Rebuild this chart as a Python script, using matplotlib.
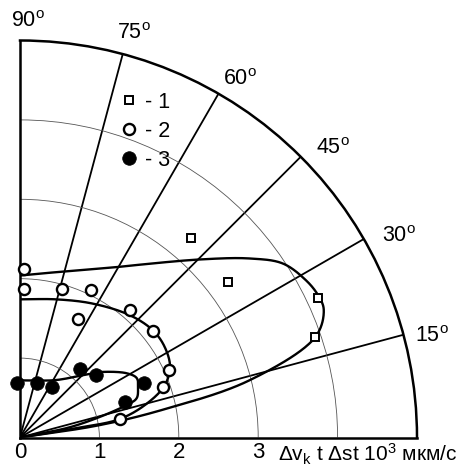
import numpy as np
import matplotlib
matplotlib.use("Agg")
import matplotlib.pyplot as plt
from matplotlib.transforms import offset_copy

plt.rcParams["font.family"] = ["Liberation Sans", "DejaVu Sans"]
plt.rcParams["mathtext.fontset"] = "custom"
plt.rcParams["mathtext.rm"] = "Liberation Sans"
plt.rcParams["mathtext.it"] = "Liberation Sans:italic"
plt.rcParams["mathtext.bf"] = "Liberation Sans:bold"

# measured points: polar angle (degrees) and radius
s1_deg = [49.3, 36.7, 25.1, 18.8]
s1_r = [3.31, 3.27, 4.15, 3.93]

s2_deg = [88.6, 88.5, 74.0, 64.3, 63.7, 49.4, 38.7, 24.3, 19.5, 10.5]
s2_r = [2.12, 1.87, 1.94, 2.06, 1.66, 2.12, 2.15, 2.06, 1.91, 1.28]

s3_deg = [92.8, 73.1, 57.5, 48.7, 39.5, 23.6, 18.5]
s3_r = [0.69, 0.72, 0.76, 1.14, 1.24, 1.70, 1.39]

# fitted loops, traced from the origin round to the vertical axis
c1_deg = [8.0, 8.8, 11.0, 14.0, 18.8, 22.8, 25.5, 28.8, 33.5, 37.9, 44.2, 53.3, 59.7, 75.4, 90.0]
c1_r = [0.0, 1.0, 1.83, 2.98, 3.93, 4.15, 4.16, 4.11, 3.97, 3.67, 3.22, 2.73, 2.49, 2.16, 2.04]

c2_deg = [9.0, 9.5, 10.5, 15.2, 19.9, 25.3, 32.1, 38.9, 48.1, 61.4, 75.1, 90.0]
c2_r = [0.0, 0.7, 1.28, 1.67, 1.94, 2.09, 2.15, 2.15, 2.07, 1.92, 1.80, 1.74]

c3_deg = [11.0, 12.0, 16.9, 18.6, 22.6, 26.9, 31.0, 38.4, 41.2, 57.4, 73.0, 90.0]
c3_r = [0.0, 0.7, 1.40, 1.55, 1.61, 1.65, 1.57, 1.33, 1.23, 0.86, 0.75, 0.72]

theta_ticks = [15, 30, 45, 60, 75, 90]
r_tick_values = [0, 1, 2, 3]
r_grid = [1, 2, 3, 4]
r_max = 5
legend_labels = ["- 1", "- 2", "- 3"]
axis_title = r"$\Delta$v$_\mathregular{k}$ t $\Delta$st 10$^\mathregular{3}$ мкм/с"

# pixel shift of each angle label from the point where its ray meets the rim
theta_label_shift = {15: (28, -2), 30: (35, 3), 45: (32, 8),
                     60: (21, 14), 75: (11, 21), 90: (8, 19)}


def smooth_loop(deg, r, n=40):
    """Centripetal Catmull-Rom curve through the traced nodes."""
    t = np.radians(deg)
    r = np.asarray(r, float)
    p = np.column_stack([r * np.cos(t), r * np.sin(t)])
    p = np.vstack([2 * p[0] - p[1], p, 2 * p[-1] - p[-2]])
    out = []
    for i in range(1, len(p) - 2):
        p0, p1, p2, p3 = p[i - 1], p[i], p[i + 1], p[i + 2]
        t0 = 0.0
        t1 = t0 + np.linalg.norm(p1 - p0) ** 0.5 + 1e-9
        t2 = t1 + np.linalg.norm(p2 - p1) ** 0.5 + 1e-9
        t3 = t2 + np.linalg.norm(p3 - p2) ** 0.5 + 1e-9
        tt = np.linspace(t1, t2, n)[:, None]
        a1 = (t1 - tt) / (t1 - t0) * p0 + (tt - t0) / (t1 - t0) * p1
        a2 = (t2 - tt) / (t2 - t1) * p1 + (tt - t1) / (t2 - t1) * p2
        a3 = (t3 - tt) / (t3 - t2) * p2 + (tt - t2) / (t3 - t2) * p3
        b1 = (t2 - tt) / (t2 - t0) * a1 + (tt - t0) / (t2 - t0) * a2
        b2 = (t3 - tt) / (t3 - t1) * a2 + (tt - t1) / (t3 - t1) * a3
        c = (t2 - tt) / (t2 - t1) * b1 + (tt - t1) / (t2 - t1) * b2
        out.append(c)
    xy = np.vstack(out)
    return np.arctan2(xy[:, 1], xy[:, 0]), np.hypot(xy[:, 0], xy[:, 1])


W, H = 460, 468
fig = plt.figure(figsize=(W / 100, H / 100), dpi=100)
ox, oy, rad = 20, 437.5, 397
ax = fig.add_axes([ox / W, 1 - oy / H, rad / W, rad / H], projection="polar")
ax.set_thetamin(0)
ax.set_thetamax(90)
ax.set_rlim(0, r_max)

ax.set_rgrids(r_grid, labels=[""] * len(r_grid))
ax.set_thetagrids(theta_ticks, labels=[""] * len(theta_ticks))
ax.xaxis.grid(True, color="black", lw=1.3)
ax.yaxis.grid(True, color="#555555", lw=0.6)
ax.tick_params(axis="both", length=0)
for name in ("polar", "start", "end"):
    ax.spines[name].set_linewidth(1.8)
    ax.spines[name].set_color("black")

# angle labels outside the rim
for d in theta_ticks:
    dx, dy = theta_label_shift[d]
    tr = offset_copy(ax.transData, fig=fig, x=dx, y=dy, units="dots")
    ax.text(np.radians(d), r_max, f"{d}$^\\mathregular{{o}}$", transform=tr,
            ha="center", va="center", fontsize=15.5, clip_on=False)

line_kw = dict(color="black", lw=1.7, solid_capstyle="round", zorder=3)
for deg, r in ((c1_deg, c1_r), (c2_deg, c2_r), (c3_deg, c3_r)):
    th, rr = smooth_loop(deg, r)
    ax.plot(th, rr, **line_kw)

h1, = ax.plot(np.radians(s1_deg), s1_r, ls="none", marker="s", ms=5.8,
              mfc="white", mec="black", mew=1.4, zorder=5, clip_on=False)
h2, = ax.plot(np.radians(s2_deg), s2_r, ls="none", marker="o", ms=8,
              mfc="white", mec="black", mew=1.7, zorder=5, clip_on=False)
h3, = ax.plot(np.radians(s3_deg), s3_r, ls="none", marker="o", ms=9.8,
              mfc="black", mec="black", mew=0.5, zorder=5, clip_on=False)

below = offset_copy(ax.transData, fig=fig, y=-4, units="dots")
for v in r_tick_values:
    ax.text(0, v, str(v), transform=below, ha="center", va="top",
            fontsize=16, clip_on=False)
ax.text(0, 3.25, axis_title, transform=below, ha="left", va="top",
        fontsize=15, clip_on=False)

fig.legend([h1, h2, h3], legend_labels, loc="upper left",
           bbox_to_anchor=(118 / W, 1 - 92 / H), frameon=False,
           handlelength=1.0, handletextpad=0.25, labelspacing=0.36,
           borderpad=0, borderaxespad=0, fontsize=15.5)

fig.savefig("out.png", dpi=100)
